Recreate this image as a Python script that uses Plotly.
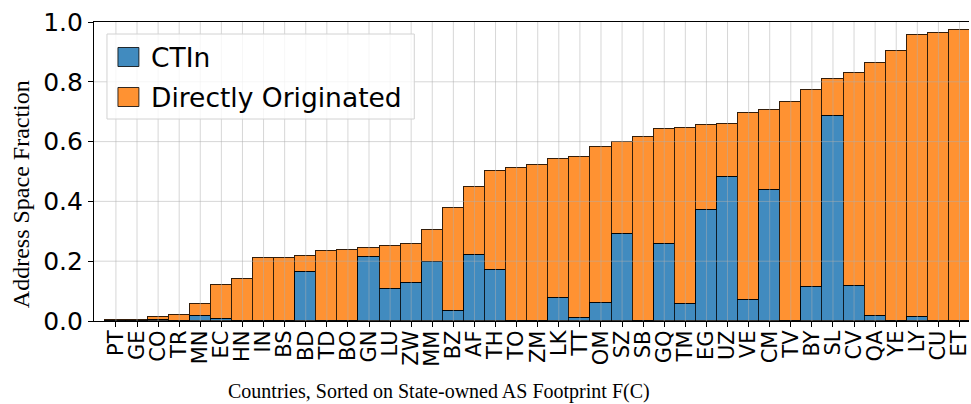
import plotly.graph_objects as go

countries = ["PT", "GE", "CO", "TR", "MN", "EC", "HN", "IN", "BS", "BD", "TD", "BO", "GN",
             "LU", "ZW", "MM", "BZ", "AF", "TH", "TO", "ZM", "LK", "TT", "OM", "SZ", "SB",
             "GQ", "TM", "EG", "UZ", "VE", "CM", "TV", "BY", "SL", "CV", "QA", "YE", "LY",
             "CU", "ET"]
total = [0.003, 0.005, 0.012, 0.019, 0.057, 0.121, 0.139, 0.210, 0.210, 0.216, 0.233, 0.236,
         0.243, 0.251, 0.259, 0.305, 0.378, 0.448, 0.503, 0.513, 0.521, 0.543, 0.550, 0.583,
         0.598, 0.614, 0.641, 0.647, 0.654, 0.660, 0.694, 0.705, 0.734, 0.774, 0.810, 0.831,
         0.863, 0.903, 0.957, 0.964, 0.974]
ctin = [0.0, 0.0, 0.002, 0.0, 0.016, 0.006, 0.0, 0.0, 0.0, 0.165, 0.0, 0.0,
        0.213, 0.107, 0.126, 0.196, 0.033, 0.221, 0.172, 0.0, 0.0, 0.078, 0.009, 0.060,
        0.290, 0.0, 0.256, 0.058, 0.370, 0.480, 0.070, 0.439, 0.0, 0.114, 0.687, 0.118,
        0.017, 0.0, 0.013, 0.0, 0.0]
direct = [round(t - c, 4) for t, c in zip(total, ctin)]

series_names = ["CTIn", "Directly Originated"]
BLUE = "rgb(65,139,191)"
ORANGE = "rgb(255,146,50)"
EDGE = "rgba(0,0,0,0.8)"

W, H = 971, 404
L, R, T, B = 94, 0, 22, 83
PW, PH = W - L - R, H - T - B

def px(x):
    return (x - L) / PW

def py(y):
    return (H - B - y) / PH

fig = go.Figure()
idx = list(range(len(countries)))
fig.add_trace(go.Bar(x=idx, y=ctin, name=series_names[0], marker=dict(color=BLUE, line=dict(color=EDGE, width=1.4)), showlegend=False))
fig.add_trace(go.Bar(x=idx, y=direct, name=series_names[1], marker=dict(color=ORANGE, line=dict(color=EDGE, width=1.4)), showlegend=False))

shapes = []
GRID = "rgba(176,176,176,0.5)"
for i in idx:
    shapes.append(dict(type="line", xref="x", yref="paper", x0=i, x1=i, y0=0, y1=1,
                       line=dict(color=GRID, width=1), layer="above"))
for v in [0.2, 0.4, 0.6, 0.8]:
    shapes.append(dict(type="line", xref="paper", yref="y", x0=0, x1=1, y0=v, y1=v,
                       line=dict(color=GRID, width=1), layer="above"))

# legend box
shapes.append(dict(type="rect", xref="paper", yref="paper", x0=px(107), x1=px(415), y0=py(119), y1=py(34),
                   fillcolor="rgba(255,255,255,0.8)", line=dict(color="rgb(210,210,210)", width=1), layer="above"))
legend_rows = [(BLUE, 57), (ORANGE, 97)]
annotations = []
for (col, yc), name in zip(legend_rows, series_names):
    shapes.append(dict(type="rect", xref="paper", yref="paper", x0=px(118), x1=px(139), y0=py(yc + 9.5), y1=py(yc - 9.5),
                       fillcolor=col, line=dict(color=EDGE, width=1), layer="above"))
    annotations.append(dict(xref="paper", yref="paper", x=px(149), y=py(yc), text=name, showarrow=False,
                            xanchor="left", yanchor="middle", font=dict(family="DejaVu Sans", size=26.5, color="black")))

annotations.append(dict(xref="paper", yref="paper", x=px(440), y=py(391), text="Countries, Sorted on State-owned AS Footprint F(C)",
                        showarrow=False, xanchor="center", yanchor="middle",
                        font=dict(family="Liberation Serif", size=20, color="black")))
annotations.append(dict(xref="paper", yref="paper", x=px(21), y=py(194), text="Address Space Fraction",
                        showarrow=False, xanchor="center", yanchor="middle", textangle=-90,
                        font=dict(family="Liberation Serif", size=24, color="black")))

fig.update_layout(
    width=W, height=H,
    margin=dict(l=L, r=R, t=T, b=B),
    barmode="stack", bargap=0,
    plot_bgcolor="white", paper_bgcolor="white",
    shapes=shapes, annotations=annotations,
    showlegend=False,
    xaxis=dict(range=[-1.04, 40.45], tickmode="array", tickvals=idx, ticktext=countries,
               tickangle=-90, ticks="outside", ticklen=5, tickcolor="black",
               ticklabeloverflow="allow", ticklabelstandoff=-5,
               showgrid=False, showline=True, linecolor="black", linewidth=1.2, mirror=True,
               tickfont=dict(family="DejaVu Sans", size=21, color="black"), zeroline=False),
    yaxis=dict(range=[0, 1], tickmode="array", tickvals=[0, 0.2, 0.4, 0.6, 0.8, 1.0],
               ticktext=["0.0", "0.2", "0.4", "0.6", "0.8", "1.0"],
               ticks="outside", ticklen=5, tickcolor="black",
               showgrid=False, showline=True, linecolor="black", linewidth=1.2,
               tickfont=dict(family="DejaVu Sans", size=25, color="black"), zeroline=False),
)

fig.write_html("out.html")
